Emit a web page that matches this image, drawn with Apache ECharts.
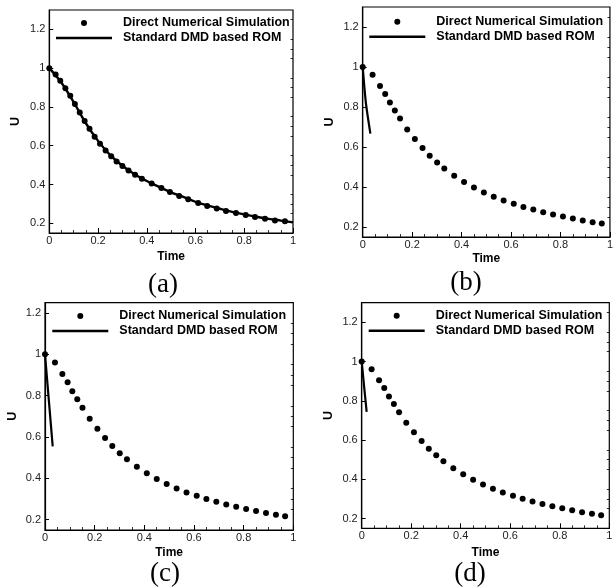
<!DOCTYPE html>
<html>
<head>
<meta charset="utf-8">
<script src="https://cdn.jsdelivr.net/npm/echarts/dist/echarts.min.js"></script>
<style>
html,body{margin:0;padding:0;background:#fff;}
#chart{width:616px;height:588px;}
</style>
</head>
<body>
<div id="chart"></div>
<script>
// ---- tick labels ----
const timeTicks = [0, 0.2, 0.4, 0.6, 0.8, 1];
const uTicks = [0.2, 0.4, 0.6, 0.8, 1.0, 1.2];
const uMinorTicks = [0.25, 0.3, 0.35, 0.45, 0.5, 0.55, 0.65, 0.7, 0.75, 0.85, 0.9, 0.95, 1.05, 1.1, 1.15, 1.25];
const legendNames = ['Direct Numerical Simulation', 'Standard DMD based ROM'];
const panelTags = ['(a)', '(b)', '(c)', '(d)'];

// ---- panel (a): DNS samples and ROM curve ----
const dnsTimeA = [0, 0.026, 0.045, 0.066, 0.086, 0.105, 0.125, 0.145, 0.165, 0.186, 0.208, 0.231, 0.254, 0.276, 0.30, 0.325, 0.352, 0.38, 0.42, 0.46, 0.495, 0.533, 0.57, 0.611, 0.648, 0.687, 0.725, 0.766, 0.806, 0.844, 0.885, 0.926, 0.967];
const dnsUA = [1.0, 0.968, 0.935, 0.897, 0.858, 0.815, 0.772, 0.728, 0.687, 0.647, 0.610, 0.576, 0.546, 0.519, 0.495, 0.472, 0.450, 0.430, 0.405, 0.382, 0.361, 0.341, 0.324, 0.305, 0.289, 0.276, 0.263, 0.253, 0.243, 0.232, 0.224, 0.215, 0.210];
const romTimeA = [0, 0.05, 0.1, 0.15, 0.2, 0.25, 0.3, 0.35, 0.4, 0.45, 0.5, 0.55, 0.6, 0.65, 0.7, 0.75, 0.8, 0.85, 0.9, 0.95, 1.0];
const romUA = [1.0, 0.925, 0.825, 0.716, 0.625, 0.552, 0.497, 0.453, 0.418, 0.388, 0.360, 0.336, 0.311, 0.292, 0.275, 0.259, 0.246, 0.234, 0.223, 0.214, 0.205];

// ---- panels (b)-(d): DNS samples ----
const dnsTime = [0, 0.04, 0.07, 0.091, 0.11, 0.13, 0.151, 0.18, 0.211, 0.242, 0.271, 0.301, 0.33, 0.37, 0.41, 0.45, 0.49, 0.53, 0.57, 0.611, 0.65, 0.69, 0.73, 0.77, 0.81, 0.85, 0.89, 0.93, 0.967];
const dnsU = [1.0, 0.961, 0.905, 0.865, 0.822, 0.783, 0.742, 0.688, 0.64, 0.595, 0.556, 0.522, 0.492, 0.456, 0.425, 0.397, 0.373, 0.351, 0.332, 0.316, 0.3, 0.287, 0.274, 0.262, 0.252, 0.242, 0.232, 0.224, 0.217];

// ---- ROM curves (b), (c), (d) ----
const romTimeB = [0, 0.0067, 0.0134, 0.022, 0.031];
const romUB = [1.0, 0.899, 0.815, 0.74, 0.667];
const romTimeC = [0, 0.016, 0.031];
const romUC = [1.0, 0.77, 0.555];
const romTimeD = [0, 0.01, 0.02];
const romUD = [1.0, 0.87, 0.743];

const FONT = 'Liberation Sans, Arial, Helvetica, sans-serif';
const SERIF = 'Liberation Serif, Times New Roman, serif';

const panels = [
  {grid: {left: 49.3, top: 10, width: 243.7, height: 223}, yMax: 1.3,
   dnsT: dnsTimeA, dnsV: dnsUA, romT: romTimeA, romV: romUA, smooth: 0.3,
   legend: {left: 56, top: 16.5}, tag: [163, 285], dot: 6, gapX: 18, gapY: 27},
  {grid: {left: 362.7, top: 7, width: 249.3, height: 230}, yMax: 1.3,
   dnsT: dnsTime, dnsV: dnsU, romT: romTimeB, romV: romUB, smooth: 0.3,
   legend: {left: 369.3, top: 15.2}, tag: [466, 283], dot: 6, gapX: 16, gapY: 27},
  {grid: {left: 45, top: 302.7, width: 248.3, height: 227.3}, yMax: 1.25,
   dnsT: dnsTime, dnsV: dnsU, romT: romTimeC, romV: romUC, smooth: false,
   legend: {left: 52.3, top: 309.5}, tag: [165, 574], dot: 6, gapX: 17, gapY: 26},
  {grid: {left: 361.7, top: 302.7, width: 247.6, height: 225.6}, yMax: 1.3,
   dnsT: dnsTime, dnsV: dnsU, romT: romTimeD, romV: romUD, smooth: false,
   legend: {left: 368.7, top: 309.3}, tag: [470, 574], dot: 6, gapX: 18, gapY: 27}
];

const fmt = v => String(+(+v).toFixed(2));
const LINE_ICON = 'path://M0,0L56,0L56,2.6L0,2.6Z';

const option = {
  backgroundColor: '#fff',
  animation: false,
  grid: [], xAxis: [], yAxis: [], series: [], legend: [], graphic: []
};

panels.forEach((p, i) => {
  option.grid.push(Object.assign({show: true, borderColor: '#000', borderWidth: 1.2, backgroundColor: 'transparent', containLabel: false}, p.grid));
  option.xAxis.push({
    type: 'value', gridIndex: i, min: 0, max: 1, interval: 0.2,
    name: 'Time', nameLocation: 'middle', nameGap: p.gapX,
    nameTextStyle: {fontFamily: FONT, fontWeight: 'bold', fontSize: 12, color: '#000'},
    axisLine: {show: true, lineStyle: {color: '#000', width: 1.2}},
    axisTick: {show: true, inside: true, length: 5, lineStyle: {color: '#000', width: 1}},
    minorTick: {show: true, splitNumber: 4, length: 3, lineStyle: {color: '#000', width: 0.8}},
    axisLabel: {fontFamily: FONT, fontSize: 11, color: '#222', margin: 2, formatter: fmt,
                customValues: timeTicks},
    splitLine: {show: false}, minorSplitLine: {show: false}
  });
  option.yAxis.push({
    type: 'value', gridIndex: i, min: 0.15, max: p.yMax,
    name: 'U', nameLocation: 'middle', nameGap: p.gapY, nameRotate: 90,
    nameTextStyle: {fontFamily: FONT, fontWeight: 'bold', fontSize: 12.5, color: '#000'},
    axisLine: {show: true, lineStyle: {color: '#000', width: 1.2}},
    axisTick: {show: true, inside: true, length: 4, customValues: uTicks, lineStyle: {color: '#000', width: 1}},
    axisLabel: {fontFamily: FONT, fontSize: 11, color: '#222', margin: 4, formatter: fmt, customValues: uTicks},
    splitLine: {show: false}
  });
  option.yAxis.push({
    type: 'value', gridIndex: i, min: 0.15, max: p.yMax,
    axisLine: {show: false},
    axisTick: {show: true, inside: true, length: 2.5, customValues: uMinorTicks.filter(v => v < p.yMax), lineStyle: {color: '#000', width: 0.8}},
    axisLabel: {show: false},
    splitLine: {show: false}
  });
  option.series.push({
    type: 'scatter', name: legendNames[0], xAxisIndex: i, yAxisIndex: 2 * i,
    symbol: 'circle', symbolSize: p.dot, itemStyle: {color: '#000', opacity: 1},
    data: p.dnsT.map((t, k) => [t, p.dnsV[k]]), z: 3
  });
  option.series.push({
    type: 'line', name: legendNames[1], xAxisIndex: i, yAxisIndex: 2 * i,
    symbol: 'none', smooth: p.smooth, clip: true,
    lineStyle: {color: '#000', width: i === 0 ? 2.4 : 2.2},
    itemStyle: {color: '#000'},
    data: p.romT.map((t, k) => [t, p.romV[k]]), z: 2
  });
  option.legend.push({
    left: p.legend.left, top: p.legend.top, orient: 'vertical', itemGap: 2,
    itemWidth: 56, itemHeight: 6, padding: 0, selectedMode: false,
    data: [
      {name: legendNames[0], icon: 'circle', itemStyle: {color: '#000', opacity: 1}},
      {name: legendNames[1], icon: LINE_ICON, itemStyle: {color: '#000', opacity: 1}}
    ],
    textStyle: {fontFamily: FONT, fontWeight: 'bold', fontSize: 12.5, color: '#000', padding: [0, 0, 0, 6]}
  });
  option.graphic.push({
    type: 'text', x: p.tag[0], y: p.tag[1],
    style: {text: panelTags[i], font: '27px ' + SERIF, fill: '#000', align: 'center', verticalAlign: 'middle'}
  });
});

const chart = echarts.init(document.getElementById('chart'), null, {renderer: 'canvas'});
chart.setOption(option);
</script>
</body>
</html>
